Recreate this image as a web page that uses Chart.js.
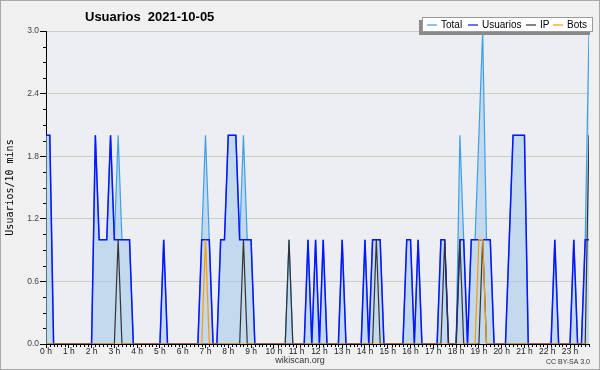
<!DOCTYPE html>
<html><head><meta charset="utf-8">
<script src="https://cdn.jsdelivr.net/npm/chart.js@4/dist/chart.umd.min.js"></script>
<style>html,body{margin:0;padding:0;background:#f0f0f0}canvas{display:block}</style>
</head><body>
<canvas id="c" width="600" height="370"></canvas>
<script>
// ---- data (10-minute intervals, 144 per day) ----
const hourLabels = ["0 h","1 h","2 h","3 h","4 h","5 h","6 h","7 h","8 h","9 h","10 h","11 h",
  "12 h","13 h","14 h","15 h","16 h","17 h","18 h","19 h","20 h","21 h","22 h","23 h"];
const yTickValues = [0, 0.6, 1.2, 1.8, 2.4, 3.0];
const titleText = "Usuarios  2021-10-05";
const yAxisTitle = "Usuarios/10 mins";
const seriesNames = ["Total", "Usuarios", "IP", "Bots"];

const total = [
  2,2,0,0,0,0,0,0,0,0,0,0,
  0,2,1,1,1,2,1,2,1,1,1,0,
  0,0,0,0,0,0,0,1,0,0,0,0,
  0,0,0,0,0,1,2,1,0,0,1,1,
  2,2,2,1,2,1,1,0,0,0,0,0,
  0,0,0,0,1,0,0,0,0,1,0,1,
  0,1,0,0,0,0,1,0,0,0,0,0,
  1,0,1,1,1,0,0,0,0,0,0,1,
  1,0,1,0,0,0,0,0,1,1,0,0,
  0,2,1,0,1,1,2,3,1,1,0,0,
  0,0,1,2,2,2,2,0,0,0,0,0,
  0,0,1,0,0,0,0,1,0,0,1,3];
const usuarios = [
  2,2,0,0,0,0,0,0,0,0,0,0,
  0,2,1,1,1,2,1,1,1,1,1,0,
  0,0,0,0,0,0,0,1,0,0,0,0,
  0,0,0,0,0,1,1,1,0,0,1,1,
  2,2,2,1,1,1,1,0,0,0,0,0,
  0,0,0,0,0,0,0,0,0,1,0,1,
  0,1,0,0,0,0,1,0,0,0,0,0,
  1,0,1,1,1,0,0,0,0,0,0,1,
  1,0,1,0,0,0,0,0,1,1,0,0,
  0,1,1,0,1,1,1,1,1,1,0,0,
  0,0,1,2,2,2,2,0,0,0,0,0,
  0,0,1,0,0,0,0,1,0,0,1,1];
const ip = [
  0,0,0,0,0,0,0,0,0,0,0,0,
  0,0,0,0,0,0,0,1,0,0,0,0,
  0,0,0,0,0,0,0,0,0,0,0,0,
  0,0,0,0,0,0,0,0,0,0,0,0,
  0,0,0,0,1,0,0,0,0,0,0,0,
  0,0,0,0,1,0,0,0,0,0,0,0,
  0,0,0,0,0,0,0,0,0,0,0,0,
  0,0,0,1,0,0,0,0,0,0,0,0,
  0,0,0,0,0,0,0,0,0,1,0,0,
  0,1,0,0,0,0,0,1,0,0,0,0,
  0,0,0,0,0,0,0,0,0,0,0,0,
  0,0,0,0,0,0,0,0,0,0,0,2];
const bots = [
  0,0,0,0,0,0,0,0,0,0,0,0,
  0,0,0,0,0,0,0,0,0,0,0,0,
  0,0,0,0,0,0,0,0,0,0,0,0,
  0,0,0,0,0,0,1,0,0,0,0,0,
  0,0,0,0,0,0,0,0,0,0,0,0,
  0,0,0,0,0,0,0,0,0,0,0,0,
  0,0,0,0,0,0,0,0,0,0,0,0,
  0,0,0,0,0,0,0,0,0,0,0,0,
  0,0,0,0,0,0,0,0,0,0,0,0,
  0,0,0,0,0,0,1,1,0,0,0,0,
  0,0,0,0,0,0,0,0,0,0,0,0,
  0,0,0,0,0,0,0,0,0,0,0,0];

const colors = ["#3f9fe6", "#0a14ff", "#333333", "#ff9a00"];
const toXY = arr => arr.map((v, i) => ({x: i, y: v}));
const legendItemX = [427, 468, 526, 553];

const decor = {
  id: 'decor',
  beforeDraw(chart) {
    const {ctx, chartArea: a} = chart;
    ctx.save();
    ctx.fillStyle = '#f0f0f0';
    ctx.fillRect(0, 0, chart.width, chart.height);
    ctx.fillStyle = '#eceef1';
    ctx.fillRect(a.left, a.top, a.right - a.left, a.bottom - a.top);
    ctx.restore();
  },
  afterDraw(chart) {
    const {ctx, chartArea: a} = chart;
    const xs = chart.scales.x, ys = chart.scales.y;
    ctx.save();
    // minor ticks
    ctx.strokeStyle = '#000'; ctx.lineWidth = 1;
    ctx.beginPath();
    for (let i = 0; i < total.length; i++) {
      if (i % 6 === 0) continue;
      const px = Math.round(xs.getPixelForValue(i)) + 0.5;
      ctx.moveTo(px, a.bottom); ctx.lineTo(px, a.bottom + 3);
    }
    for (let k = 1; k < 20; k++) {
      if (k % 4 === 0) continue;
      const py = Math.round(ys.getPixelForValue(k * 0.15)) + 0.5;
      ctx.moveTo(a.left - 3, py); ctx.lineTo(a.left, py);
    }
    ctx.stroke();

    // title
    ctx.fillStyle = '#000';
    ctx.font = 'bold 13px "Liberation Sans", Arial, sans-serif';
    ctx.textBaseline = 'middle';
    ctx.textAlign = 'left';
    ctx.fillText(titleText, 85, 17);

    // legend
    const lx = 422, ly = 17, lw = 171, lh = 15;
    ctx.fillStyle = '#8a8a8a';
    ctx.fillRect(lx - 3, ly + 3, lw, lh);
    ctx.fillStyle = '#ffffff';
    ctx.fillRect(lx, ly, lw, lh);
    ctx.strokeStyle = '#9a9a9a';
    ctx.strokeRect(lx + 0.5, ly + 0.5, lw - 1, lh - 1);
    ctx.font = '10px "Liberation Sans", Arial, sans-serif';
    const cy = ly + lh / 2 + 0.5;
    chart.data.datasets.forEach((ds, j) => {
      const cx = legendItemX[j];
      ctx.strokeStyle = ds.borderColor; ctx.lineWidth = 1.2;
      ctx.beginPath(); ctx.moveTo(cx, cy); ctx.lineTo(cx + 10, cy); ctx.stroke();
      ctx.fillStyle = '#000';
      ctx.fillText(ds.label, cx + 14, cy);
    });

    // footer
    ctx.fillStyle = '#333';
    ctx.textAlign = 'center';
    ctx.font = '9px "Liberation Sans", Arial, sans-serif';
    ctx.fillText('wikiscan.org', 300, 361);
    ctx.textAlign = 'right';
    ctx.font = '7px "Liberation Sans", Arial, sans-serif';
    ctx.fillText('CC BY-SA 3.0', 590, 362);

    // outer border
    ctx.strokeStyle = '#a8a8a8'; ctx.lineWidth = 1;
    ctx.strokeRect(0.5, 0.5, chart.width - 1, chart.height - 1);
    ctx.restore();
  }
};

new Chart(document.getElementById('c'), {
  type: 'line',
  data: {
    datasets: [
      {label: seriesNames[0], data: toXY(total), borderColor: colors[0], borderWidth: 1.2,
       backgroundColor: 'rgba(160,200,235,0.55)', fill: 'origin', order: 4},
      {label: seriesNames[1], data: toXY(usuarios), borderColor: colors[1], borderWidth: 1.5,
       fill: false, order: 3},
      {label: seriesNames[2], data: toXY(ip), borderColor: colors[2], borderWidth: 1.2,
       fill: false, order: 2},
      {label: seriesNames[3], data: toXY(bots), borderColor: colors[3], borderWidth: 1.2,
       fill: false, order: 1}
    ]
  },
  options: {
    responsive: false,
    animation: false,
    devicePixelRatio: 1,
    elements: {point: {radius: 0}, line: {tension: 0}},
    layout: {padding: {left: 0, right: 11, top: 31, bottom: 0}},
    plugins: {legend: {display: false}, title: {display: false}, tooltip: {enabled: false}},
    scales: {
      x: {
        type: 'linear', min: 0, max: total.length - 1,
        afterBuildTicks: s => { s.ticks = hourLabels.map((_, h) => ({value: h * 6})); },
        afterFit: s => { s.height = 26; s.paddingLeft = 0; s.paddingRight = 0; },
        grid: {drawOnChartArea: false, drawTicks: true, tickLength: 4, tickColor: '#000'},
        border: {color: '#000', width: 1},
        ticks: {autoSkip: false, maxRotation: 0, padding: -1, color: '#222',
          font: {family: '"Liberation Sans", Arial, sans-serif', size: 8.5},
          callback: (v, i) => hourLabels[i]}
      },
      y: {
        min: 0, max: 3,
        afterBuildTicks: s => { s.ticks = yTickValues.map(v => ({value: v})); },
        afterFit: s => { s.width = 46; },
        grid: {color: '#cccccc', tickColor: '#000', tickLength: 6, drawTicks: true},
        border: {color: '#000', width: 1},
        ticks: {padding: 1, color: '#444',
          font: {family: '"Liberation Sans", Arial, sans-serif', size: 8.5},
          callback: v => Number(v).toFixed(1)},
        title: {display: true, text: yAxisTitle, color: '#000', padding: {top: 4, bottom: 0},
          font: {family: '"DejaVu Sans Mono", monospace', size: 10}}
      }
    }
  },
  plugins: [decor]
});
</script>
</body></html>
